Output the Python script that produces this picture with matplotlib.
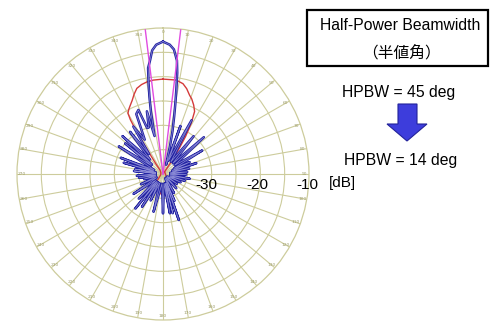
import numpy as np
import matplotlib
matplotlib.use("Agg")
import matplotlib.pyplot as plt
from matplotlib.patches import Rectangle, Polygon

# ---------------- data ----------------
# Broad beam (HPBW = 45 deg), red: angle [deg], level [dB]
red_angle = [0, 8, 12.5, 15.5, 18.6, 21, 24, 26.8, 29, 31, 32.5, 34, 36, 45, 90, 150, 165,
             172, 180, 188, 195, 205, 210, 220, 250, 300, 323, 325, 327, 328, 329, 330,
             332, 334, 337.3, 340, 343, 346.5, 350, 354, 360]
red_db = [-10.5, -10.5, -11.0, -11.8, -12.9, -13.5, -14.5, -15.6, -18.0, -21.0, -24.0,
          -27.0, -29.5, -29.5, -29.5, -28.0, -27.0, -26.0, -25.5, -26.0, -27.5, -27.0,
          -26.5, -28.0, -29.5, -29.5, -29.0, -27.5, -24.0, -20.0, -17.0, -15.6, -15.0,
          -14.5, -13.6, -12.6, -11.6, -11.1, -10.8, -10.6, -10.5]

# Narrow beam (HPBW = 14 deg), blue: angle [deg], level [dB]
blue_angle = [0, 3, 5, 7, 8, 9, 10, 11, 12.5, 14, 16, 18,
              20, 22.5, 28, 33, 39, 43, 48, 53, 59, 63, 66, 69, 72, 75, 78, 81,
              85, 88, 91, 95, 100, 104, 107, 111, 115, 120, 125, 130, 137, 142,
              150, 154, 157, 159, 161, 164, 166, 168, 170, 174, 180, 186, 194, 200,
              205, 208, 212.6, 215, 218.7, 221, 224.6, 229, 236, 240, 245, 250,
              255, 258, 261, 264, 266, 273, 276, 278, 280, 283, 286, 288.5, 291,
              295, 302, 306, 309, 311, 313, 318, 322, 325, 328, 332, 336, 339,
              341, 343, 345.6, 347.5, 349, 350, 351, 352, 353.5, 355, 357, 360]
blue_db = [-2.8, -3.4, -4.3, -6.5, -9.0, -12.5, -15.5, -18.0, -21.0, -24.0, -27.0, -28.0,
           -19.5, -27.0, -17.5, -27.0, -20.0, -27.0, -18.7, -27.0, -20.6, -27.5, -24.0,
           -28.0, -22.8, -28.0, -24.5, -28.5, -25.0, -28.5, -25.2, -28.5, -24.4, -28.5,
           -25.3, -28.5, -26.0, -29.0, -26.5, -29.0, -26.0, -29.0, -25.5, -29.0, -24.0,
           -28.0, -20.0, -28.0, -21.7, -28.0, -21.8, -28.0, -21.9, -28.0, -22.0, -28.0,
           -24.0, -28.0, -22.0, -28.0, -20.9, -28.0, -22.9, -28.0, -22.7, -28.5, -25.0,
           -28.5, -26.0, -28.5, -25.0, -28.5, -24.6, -28.5, -24.0, -28.5, -24.2, -28.5,
           -21.6, -28.0, -20.7, -28.0, -19.3, -27.0, -20.0, -27.0, -18.6, -26.0, -19.0,
           -25.0, -18.5, -22.0, -16.5, -15.9, -20.0, -20.0, -16.7, -22.0, -17.0, -14.0,
           -11.0, -8.0, -6.5, -4.5, -3.4, -2.8]

# HPBW marker lines (magenta)
hpbw_angle = [-7, 7]

# Ring labels and right-hand texts
ring_labels = ["-30", "-20", "-10"]
angle_labels = [str(a) for a in range(0, 360, 10)]
title_line1 = "Half-Power Beamwidth"
title_line2 = "（半値角）"
hpbw_before = "HPBW = 45 deg"
hpbw_after = "HPBW = 14 deg"
unit_label = "[dB]"

# ---------------- figure ----------------
W, H = 490, 322
fig = plt.figure(figsize=(W / 100, H / 100), dpi=100)
fig.patch.set_facecolor("white")

def fx(px):
    return px / W

def fy(py):
    return 1 - py / H

cx, cy, R = 163, 174, 146
ax = fig.add_axes([fx(cx - R), fy(cy + R), 2 * R / W, 2 * R / H], projection="polar")
ax.set_theta_zero_location("N")
ax.set_theta_direction(-1)
ax.set_ylim(-30, 0)

grid_col = "#cdcc9c"
ax.set_rgrids([-25, -20, -15, -10, -5], labels=[])
ax.set_thetagrids(np.arange(0, 360, 10), labels=[])
ax.grid(True, color=grid_col, lw=0.8)
ax.spines["polar"].set_color(grid_col)
ax.spines["polar"].set_linewidth(0.9)
ax.tick_params(length=0)

for a, lab in zip(range(0, 360, 10), angle_labels):
    ax.text(np.deg2rad(a), -0.9, lab, fontsize=3.2, color="#9c9c6a",
            ha="center", va="center", clip_on=False, family="DejaVu Sans")

ax.plot(np.deg2rad(red_angle), red_db, color="#d43a3a", lw=1.0, zorder=3)
ax.plot(np.deg2rad(blue_angle), blue_db, color="#2222a2", lw=1.8, zorder=4,
        solid_joinstyle="round")
ax.plot(np.deg2rad(blue_angle), blue_db, color="#8a8ad6", lw=0.5, zorder=5,
        solid_joinstyle="round")
for a in hpbw_angle:
    ax.plot(np.deg2rad([a, a]), [-30, 0], color="#e04ce0", lw=1.0, zorder=6)

# ring value labels
sans = ["Liberation Sans", "DejaVu Sans"]
for xpix, lab in zip([206, 257, 307], ring_labels):
    fig.text(fx(xpix), fy(185), lab, fontsize=11, ha="center", va="center",
             family=sans, color="black")
fig.text(fx(342), fy(183), unit_label, fontsize=11, ha="center", va="center",
         family=sans)

# box with title
fig.patches.append(Rectangle((fx(307), fy(66)), fx(488) - fx(307), fy(10) - fy(66),
                             transform=fig.transFigure, fill=False,
                             edgecolor="black", lw=1.6))
fig.text(fx(400), fy(26), title_line1, fontsize=11.3, ha="center", va="center",
         family=sans)
fig.text(fx(401), fy(54), title_line2, fontsize=11.3, ha="center", va="center",
         family=["Noto Sans CJK JP", "DejaVu Sans"])

fig.text(fx(399), fy(92), hpbw_before, fontsize=11.3, ha="center", va="center",
         family=sans)
fig.text(fx(401), fy(160), hpbw_after, fontsize=11.3, ha="center", va="center",
         family=sans)

# arrow
arrow_px = [(398, 104), (417, 104), (417, 124), (427, 124), (407, 141),
            (387, 124), (398, 124)]
fig.patches.append(Polygon([(fx(x), fy(y)) for x, y in arrow_px], closed=True,
                           transform=fig.transFigure, facecolor="#3d3ddc",
                           edgecolor="#22229a", lw=0.8))

fig.savefig("out.png", dpi=100, facecolor="white")
